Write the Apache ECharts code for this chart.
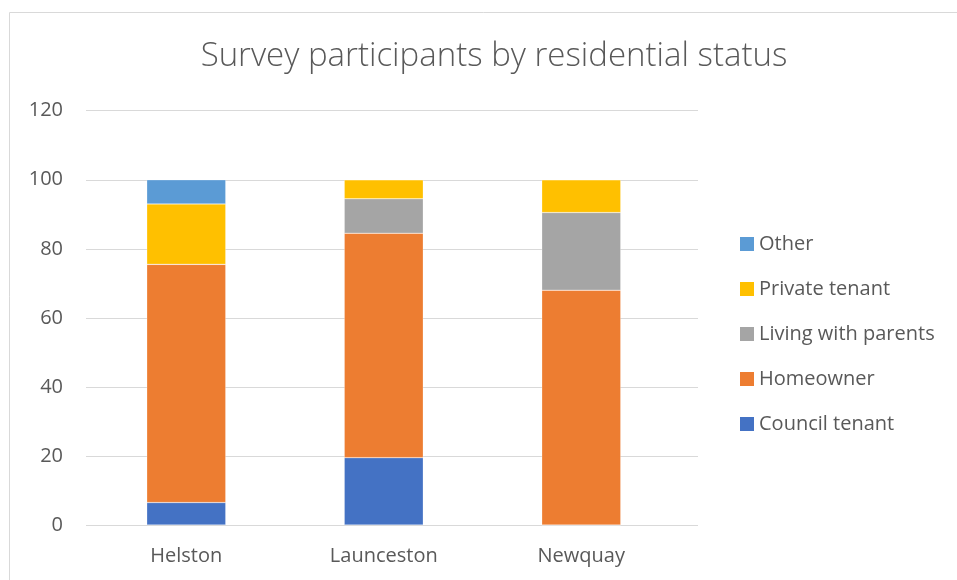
<!DOCTYPE html>
<html>
<head>
<meta charset="utf-8">
<script src="https://cdn.jsdelivr.net/npm/echarts@6/dist/echarts.min.js"></script>
<style>
  html, body { margin: 0; padding: 0; background: #fff; }
  #chart { width: 957px; height: 580px; }
</style>
</head>
<body>
<div id="chart"></div>
<script>
const towns = ['Helston', 'Launceston', 'Newquay']
const councilTenant = [6.5, 19.5, 0]
const homeowner = [69, 65, 68]
const livingWithParents = [0, 10, 22.5]
const privateTenant = [17.5, 5.5, 9.5]
const other = [7, 0, 0]

const font = '"Open Sans", sans-serif'
const textColor = '#595959'

const chart = echarts.init(document.getElementById('chart'))

function barSeries(name, data, color) {
  return {
    name,
    type: 'bar',
    stack: 'total',
    xAxisIndex: 1,
    yAxisIndex: 1,
    barWidth: 79,
    data,
    itemStyle: { color, borderColor: 'rgba(255,255,255,0.5)', borderWidth: 0.5 },
  }
}

chart.setOption({
  animation: false,
  textStyle: { fontFamily: font },
  title: {
    text: 'Survey participants by residential status',
    left: 489,
    textAlign: 'center',
    top: 35,
    textStyle: { fontFamily: font, fontSize: 33, fontWeight: 300, color: textColor },
  },
  graphic: [{
    type: 'rect',
    shape: { x: 9.5, y: 12.5, width: 960, height: 580 },
    style: { fill: 'none', stroke: '#d9d9d9', lineWidth: 1 },
    silent: true,
  }],
  legend: {
    orient: 'vertical',
    left: 740,
    top: 234,
    padding: 0,
    itemWidth: 14,
    itemHeight: 14,
    itemGap: 25,
    itemStyle: { borderWidth: 0 },
    icon: 'rect',
    textStyle: { fontFamily: font, fontSize: 20, color: textColor },
    data: ['Other', 'Private tenant', 'Living with parents', 'Homeowner', 'Council tenant'],
  },
  grid: [
    { left: 86, right: 259, top: 110.7, bottom: 55 },
    { left: 87.5, right: 277, top: 110.7, bottom: 55 },
  ],
  xAxis: [
    { type: 'value', gridIndex: 0, show: false },
    {
      type: 'category',
      gridIndex: 1,
      data: towns,
      axisLine: { show: false },
      axisTick: { show: false },
      axisLabel: { fontFamily: font, fontSize: 20, color: textColor, margin: 21 },
    },
  ],
  yAxis: [
    {
      type: 'value',
      gridIndex: 0,
      min: 0,
      max: 120,
      interval: 20,
      axisLine: { show: false },
      axisTick: { show: false },
      axisLabel: { fontFamily: font, fontSize: 20, color: textColor, margin: 23 },
      splitLine: { lineStyle: { color: '#d9d9d9', width: 1 } },
    },
    { type: 'value', gridIndex: 1, min: 0, max: 120, interval: 20, show: false },
  ],
  series: [
    barSeries('Council tenant', councilTenant, '#4472C4'),
    barSeries('Homeowner', homeowner, '#ED7D31'),
    barSeries('Living with parents', livingWithParents, '#A5A5A5'),
    barSeries('Private tenant', privateTenant, '#FFC000'),
    barSeries('Other', other, '#5B9BD5'),
  ],
})
</script>
</body>
</html>
